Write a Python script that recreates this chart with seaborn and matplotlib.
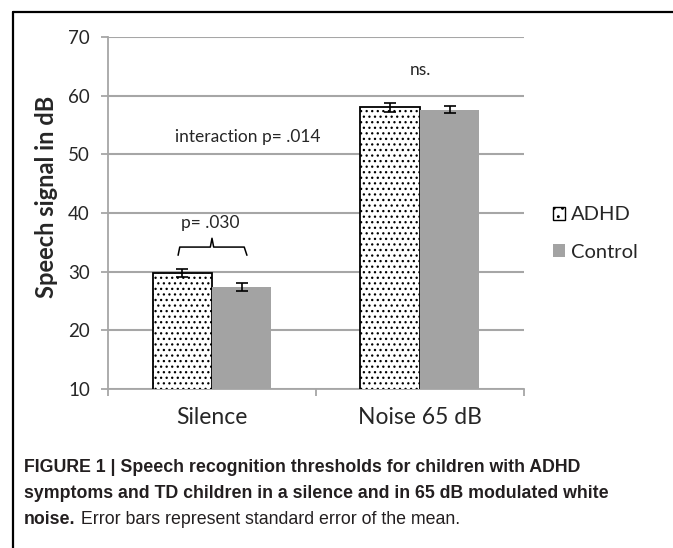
"""Speech recognition thresholds, ADHD vs control (Figure 1 recreation)."""

import matplotlib
import pandas as pd
import seaborn as sns

matplotlib.use("Agg")
import matplotlib.pyplot as plt
from matplotlib.lines import Line2D
from matplotlib.patches import Patch

# data
conditions = ["Silence", "Noise 65 dB"]
groups = ["ADHD", "Control"]
adhd_means = [29.8, 58.0]
control_means = [27.4, 57.6]
adhd_se = [0.7, 0.8]
control_se = [0.7, 0.6]
y_ticks = [10, 20, 30, 40, 50, 60, 70]

sns.set_theme(style="white")
plt.rcParams["font.family"] = ["Lato", "DejaVu Sans"]
plt.rcParams["hatch.linewidth"] = 0.9

GRID = "#a6a6a6"
BAR_GREY = "#a3a3a3"
INK = "#231f20"

df = pd.DataFrame({
    "condition": conditions * 2,
    "group": [groups[0]] * 2 + [groups[1]] * 2,
    "value": adhd_means + control_means,
    "se": adhd_se + control_se,
})

fig = plt.figure(figsize=(6.73, 5.48), dpi=100)
ax = fig.add_axes([0.1605, 0.290, 0.618, 0.6425])

sns.barplot(data=df, x="condition", y="value", hue="group", order=conditions,
            hue_order=groups, palette=["white", BAR_GREY], width=0.572,
            errorbar=None, legend=False, ax=ax, zorder=3)

# style bars: hatched ADHD, flat grey control
n = len(conditions)
for i, bar in enumerate(ax.patches[:2 * n]):
    if i < n:
        bar.set_hatch("...")
        bar.set_edgecolor("black")
        bar.set_linewidth(1.3)
    else:
        bar.set_edgecolor("none")

# error bars (standard error)
for bar, (_, row) in zip(ax.patches[:2 * n], df.iterrows()):
    cx = bar.get_x() + bar.get_width() / 2
    ax.errorbar(cx, row["value"], yerr=row["se"], fmt="none", ecolor="black",
                elinewidth=1.2, capsize=4, capthick=1.2, zorder=4)

ax.set_xlim(-0.5, 1.5)
ax.set_ylim(10, 70)
ax.set_yticks(y_ticks)
ax.yaxis.grid(True, color=GRID, linewidth=1.5, zorder=0)
ax.set_axisbelow(True)
for side in ["top", "right"]:
    ax.spines[side].set_visible(False)
for side in ["left", "bottom"]:
    ax.spines[side].set_color(GRID)
    ax.spines[side].set_linewidth(1.3)

ax.set_xticks([-0.5, 0.5, 1.5], minor=True)
ax.tick_params(axis="x", which="major", length=0, labelsize=16.5, pad=13)
ax.tick_params(axis="x", which="minor", length=5, color=GRID, width=1.3,
               direction="out", bottom=True)
ax.tick_params(axis="y", length=5, color=GRID, width=1.3, direction="out",
               left=True, labelsize=13.5, pad=8)
ax.set_xlabel("")
ax.set_ylabel("Speech signal in dB", fontsize=17, fontweight="bold")
ax.yaxis.set_label_coords(-0.121, 0.545)

# annotations
ax.text(1.0, 64.4, "ns.", ha="center", va="center", fontsize=12.5)
ax.text(0.17, 52.9, "interaction p= .014", ha="center", va="center", fontsize=12.5)
ax.text(-0.01, 38.3, "p= .030", ha="center", va="center", fontsize=12.5)
bx = [-0.163, -0.155, -0.008, 0.0, 0.008, 0.155, 0.168]
by = [32.8, 34.2, 34.2, 35.7, 34.2, 34.2, 32.8]
ax.plot(bx, by, color="black", linewidth=1.1, solid_joinstyle="round")

# legend to the right
handles = [
    Patch(facecolor="white", edgecolor="black", hatch="..", linewidth=1.0, label=groups[0]),
    Patch(facecolor=BAR_GREY, edgecolor="none", label=groups[1]),
]
fig.legend(handles=handles, loc="center left", bbox_to_anchor=(0.795, 0.574),
           frameon=False, fontsize=14.5, handlelength=0.6, handleheight=0.6,
           handletextpad=0.3, labelspacing=1.0)

# cropped figure frame (left and top rules)
fig.add_artist(Line2D([0.0193, 0.0193], [0.0, 0.978], color="black", linewidth=1.6,
                      transform=fig.transFigure))
fig.add_artist(Line2D([0.0193, 1.0], [0.978, 0.978], color="black", linewidth=1.6,
                      transform=fig.transFigure))

# caption
cap_font = ["Liberation Sans", "DejaVu Sans"]
cap_size = 12.8
fig.text(0.036, 1 - 468 / 548, "FIGURE 1 | Speech recognition thresholds for children with ADHD",
         fontsize=cap_size, fontweight="bold", family=cap_font, va="center", color=INK)
fig.text(0.036, 1 - 494 / 548, "symptoms and TD children in a silence and in 65 dB modulated white",
         fontsize=cap_size, fontweight="bold", family=cap_font, va="center", color=INK)
t3 = fig.text(0.036, 1 - 520 / 548, "noise.", fontsize=cap_size, fontweight="bold",
              family=cap_font, va="center", color=INK)
ax.annotate(" Error bars represent standard error of the mean.", xy=(1, 0),
            xycoords=t3, va="bottom", ha="left", fontsize=cap_size,
            family=cap_font, color=INK, annotation_clip=False)

fig.savefig("out.png", dpi=100)
